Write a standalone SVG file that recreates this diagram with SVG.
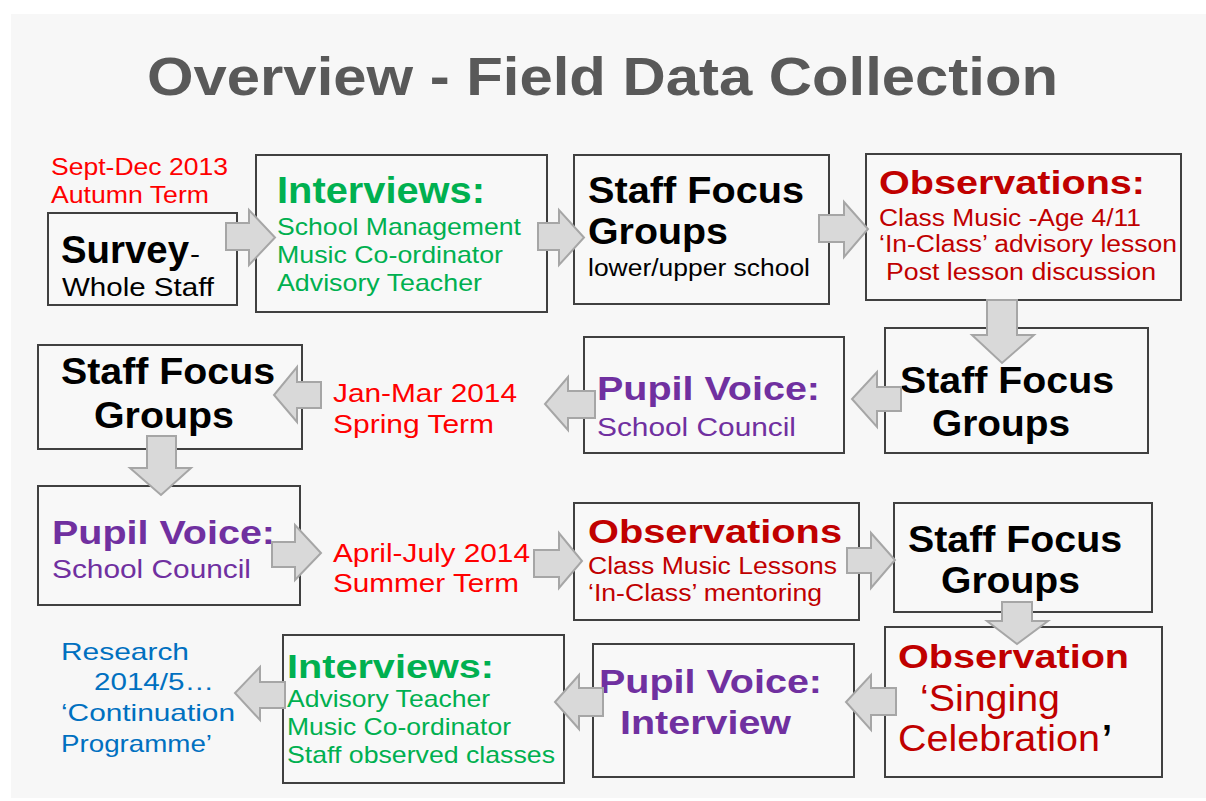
<svg xmlns="http://www.w3.org/2000/svg" width="1206" height="801" viewBox="0 0 1206 801">
<style>
text{font-family:"Liberation Sans",Arial,sans-serif;}
.b{font-weight:bold;}
.box{fill:#f8f8f8;stroke:#404040;stroke-width:2;}
.arr{fill:#d9d9d9;stroke:#a6a6a6;stroke-width:2;stroke-linejoin:miter;}
.blk{fill:#000;}
.grn{fill:#00b050;}
.red{fill:#ff0000;}
.dred{fill:#c00000;}
.pur{fill:#7030a0;}
.blu{fill:#0070c0;}
.h{font-size:36px;}
.h2{font-size:34px;}
.t{font-size:24px;}
</style>
<rect x="0" y="0" width="1206" height="801" fill="#ffffff"/>
<rect x="11" y="14" width="1195" height="784" fill="#f7f7f7"/>
<text x="147" y="95" font-size="54" class="b" fill="#595959" textLength="911" lengthAdjust="spacingAndGlyphs">Overview - Field Data Collection</text>

<g id="autumn-label">
<text x="51" y="175" class="t red" textLength="177" lengthAdjust="spacingAndGlyphs">Sept-Dec 2013</text>
<text x="51" y="203" class="t red" textLength="158" lengthAdjust="spacingAndGlyphs">Autumn Term</text>
</g>
<g id="survey">
<rect class="box" x="48" y="213" width="189" height="92"/>
<text x="61" y="263" class="b blk" font-size="38" textLength="128" lengthAdjust="spacingAndGlyphs">Survey</text>
<text x="190" y="263" class="blk" font-size="25" textLength="10" lengthAdjust="spacingAndGlyphs">-</text>
<text x="62" y="296" class="blk" font-size="25" textLength="152" lengthAdjust="spacingAndGlyphs">Whole Staff</text>
</g>
<g id="interviews1">
<rect class="box" x="256" y="155" width="291" height="157"/>
<text x="277" y="203" class="h b grn" textLength="208" lengthAdjust="spacingAndGlyphs">Interviews:</text>
<text x="277" y="235" class="t grn" textLength="244" lengthAdjust="spacingAndGlyphs">School Management</text>
<text x="277" y="263" class="t grn" textLength="226" lengthAdjust="spacingAndGlyphs">Music Co-ordinator</text>
<text x="277" y="291" class="t grn" textLength="205" lengthAdjust="spacingAndGlyphs">Advisory Teacher</text>
</g>
<g id="staff1">
<rect class="box" x="574" y="155" width="255" height="149"/>
<text x="588" y="203" class="h b blk" textLength="216" lengthAdjust="spacingAndGlyphs">Staff Focus</text>
<text x="588" y="244" class="h b blk" textLength="140" lengthAdjust="spacingAndGlyphs">Groups</text>
<text x="588" y="276" class="blk" font-size="23" textLength="222" lengthAdjust="spacingAndGlyphs">lower/upper school</text>
</g>
<g id="observations1">
<rect class="box" x="866" y="154" width="315" height="146"/>
<text x="879" y="194" class="h2 b dred" textLength="266" lengthAdjust="spacingAndGlyphs">Observations:</text>
<text x="879" y="226" class="dred" font-size="23" textLength="262" lengthAdjust="spacingAndGlyphs">Class Music -Age 4/11</text>
<text x="879" y="252" class="dred" font-size="23" textLength="298" lengthAdjust="spacingAndGlyphs">‘In-Class’ advisory lesson</text>
<text x="886" y="280" class="dred" font-size="23" textLength="270" lengthAdjust="spacingAndGlyphs">Post lesson discussion</text>
</g>
<g id="staff2">
<rect class="box" x="885" y="328" width="263" height="125"/>
<text x="900" y="393" class="h b blk" textLength="214" lengthAdjust="spacingAndGlyphs">Staff Focus</text>
<text x="932" y="436" class="h b blk" textLength="138" lengthAdjust="spacingAndGlyphs">Groups</text>
</g>
<g id="pupil1">
<rect class="box" x="584" y="337" width="260" height="116"/>
<text x="597" y="400" class="h2 b pur" textLength="223" lengthAdjust="spacingAndGlyphs">Pupil Voice:</text>
<text x="597" y="436" class="pur" font-size="25" textLength="199" lengthAdjust="spacingAndGlyphs">School Council</text>
</g>
<g id="spring-label">
<text x="333" y="402" class="red" font-size="25" textLength="184" lengthAdjust="spacingAndGlyphs">Jan-Mar 2014</text>
<text x="333" y="433" class="red" font-size="25" textLength="161" lengthAdjust="spacingAndGlyphs">Spring Term</text>
</g>
<g id="staff3">
<rect class="box" x="38" y="345" width="264" height="104"/>
<text x="61" y="384" class="h b blk" textLength="214" lengthAdjust="spacingAndGlyphs">Staff Focus</text>
<text x="94" y="428" class="h b blk" textLength="140" lengthAdjust="spacingAndGlyphs">Groups</text>
</g>
<g id="pupil2">
<rect class="box" x="38" y="486" width="262" height="119"/>
<text x="52" y="544" class="h2 b pur" textLength="223" lengthAdjust="spacingAndGlyphs">Pupil Voice:</text>
<text x="52" y="578" class="pur" font-size="25" textLength="199" lengthAdjust="spacingAndGlyphs">School Council</text>
</g>
<g id="summer-label">
<text x="333" y="562" class="red" font-size="25" textLength="197" lengthAdjust="spacingAndGlyphs">April-July 2014</text>
<text x="333" y="592" class="red" font-size="25" textLength="186" lengthAdjust="spacingAndGlyphs">Summer Term</text>
</g>
<g id="observations2">
<rect class="box" x="574" y="503" width="285" height="117"/>
<text x="588" y="543" class="h2 b dred" textLength="254" lengthAdjust="spacingAndGlyphs">Observations</text>
<text x="588" y="574" class="dred" font-size="23" textLength="249" lengthAdjust="spacingAndGlyphs">Class Music Lessons</text>
<text x="588" y="601" class="dred" font-size="23" textLength="234" lengthAdjust="spacingAndGlyphs">‘In-Class’ mentoring</text>
</g>
<g id="staff4">
<rect class="box" x="894" y="503" width="258" height="109"/>
<text x="908" y="552" class="h b blk" textLength="214" lengthAdjust="spacingAndGlyphs">Staff Focus</text>
<text x="941" y="593" class="h b blk" textLength="139" lengthAdjust="spacingAndGlyphs">Groups</text>
</g>
<g id="observation3">
<rect class="box" x="885" y="627" width="277" height="150"/>
<text x="898" y="668" class="h2 b dred" textLength="231" lengthAdjust="spacingAndGlyphs">Observation</text>
<text x="920" y="711" class="dred" font-size="36" textLength="140" lengthAdjust="spacingAndGlyphs">‘Singing</text>
<text x="898" y="751" class="dred" font-size="36" textLength="202" lengthAdjust="spacingAndGlyphs">Celebration</text>
<text x="1102" y="751" class="b blk" font-size="36">’</text>
</g>
<g id="pupil3">
<rect class="box" x="593" y="644" width="261" height="133"/>
<text x="599" y="693" class="h2 b pur" textLength="223" lengthAdjust="spacingAndGlyphs">Pupil Voice:</text>
<text x="620" y="734" class="h2 b pur" textLength="171" lengthAdjust="spacingAndGlyphs">Interview</text>
</g>
<g id="interviews2">
<rect class="box" x="283" y="635" width="281" height="148"/>
<text x="287" y="678" class="h2 b grn" textLength="207" lengthAdjust="spacingAndGlyphs">Interviews:</text>
<text x="287" y="707" class="t grn" textLength="203" lengthAdjust="spacingAndGlyphs">Advisory Teacher</text>
<text x="287" y="735" class="t grn" textLength="224" lengthAdjust="spacingAndGlyphs">Music Co-ordinator</text>
<text x="287" y="763" class="t grn" textLength="268" lengthAdjust="spacingAndGlyphs">Staff observed classes</text>
</g>
<g id="research">
<text x="61" y="660" class="t blu" textLength="128" lengthAdjust="spacingAndGlyphs">Research</text>
<text x="94" y="690" class="t blu" textLength="120" lengthAdjust="spacingAndGlyphs">2014/5…</text>
<text x="61" y="721" class="t blu" textLength="174" lengthAdjust="spacingAndGlyphs">‘Continuation</text>
<text x="61" y="752" class="t blu" textLength="151" lengthAdjust="spacingAndGlyphs">Programme’</text>
</g>

<g id="connectors">
<polygon class="arr" points="226,223 249,223 249,210 275,237.5 249,265 249,250 226,250"/>
<polygon class="arr" points="538,223 559,223 559,210 584,237.5 559,265 559,250 538,250"/>
<polygon class="arr" points="819,215 844,215 844,202 868,229 844,257 844,242 819,242"/>
<polygon class="arr" points="987,300 1017,300 1017,335 1034,335 1002,363 972,335 987,335"/>
<polygon class="arr" points="901,387 877,387 877,372 852,399 877,427 877,411 901,411"/>
<polygon class="arr" points="595,391 568,391 568,377 545,404 568,430 568,418 595,418"/>
<polygon class="arr" points="321,382 297,382 297,367 274,395 297,422 297,408 321,408"/>
<polygon class="arr" points="147,436 176,436 176,468 191,468 161,495 130,468 147,468"/>
<polygon class="arr" points="272,542 295,542 295,525 321,553 295,580 295,567 272,567"/>
<polygon class="arr" points="534,550 559,550 559,533 582,561 559,588 559,577 534,577"/>
<polygon class="arr" points="847,548 871,548 871,533 895,560 871,588 871,573 847,573"/>
<polygon class="arr" points="1002,602 1032,602 1032,621 1048,621 1017,644 987,621 1002,621"/>
<polygon class="arr" points="896,688 871,688 871,675 846,702 871,730 871,715 896,715"/>
<polygon class="arr" points="603,688 579,688 579,675 555,702 579,729 579,716 603,716"/>
<polygon class="arr" points="285,682 260,682 260,667 235,693 260,720 260,708 285,708"/>
</g>
</svg>
